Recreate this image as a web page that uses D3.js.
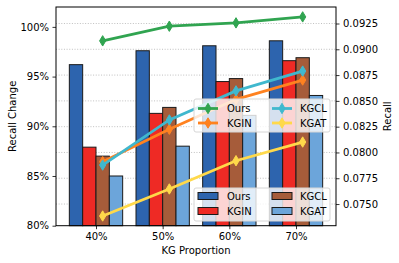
<!DOCTYPE html>
<html>
  <head>
    <meta charset='utf-8'>
    <script src='https://d3js.org/d3.v7.min.js'></script>
    <style>
body { margin: 0; background: #fff; }
svg text { font-family: 'DejaVu Sans', sans-serif; font-size: 10px; fill: #000; }
    </style>
  </head>
  <body>
    <div id='chart'></div>
    <script>
        // data
        const categories = ['40%', '50%', '60%', '70%'];
        const models = ['Ours', 'KGIN', 'KGCL', 'KGAT'];

        // bars: recall change (%)
        const changeOurs = [96.2, 97.6, 98.1, 98.6];
        const changeKGIN = [87.9, 91.3, 94.5, 96.6];
        const changeKGCL = [87.0, 91.9, 94.8, 96.9];
        const changeKGAT = [85.0, 88.0, 91.1, 93.1];

        // lines: recall
        const recallOurs = [0.09082, 0.09224, 0.09256, 0.09314];
        const recallKGIN = [0.07911, 0.08225, 0.08515, 0.08702];
        const recallKGCL = [0.07878, 0.08315, 0.08597, 0.08789];
        const recallKGAT = [0.07384, 0.07646, 0.07920, 0.08101];

        const leftTicks = [80, 85, 90, 95, 100];
        const rightTicks = [0.0750, 0.0775, 0.0800, 0.0825, 0.0850, 0.0875, 0.0900, 0.0925];

        const barColors = ['#2d64ae', '#ee2a25', '#a65c3a', '#6ca5da'];
        const lineColors = ['#30a450', '#ff8220', '#40b8ce', '#ffd94a'];

        const width = 399, height = 263;
        const box = { left: 56, right: 336, top: 7, bottom: 225.7 };

        const svg = d3.select('#chart').append('svg')
            .attr('width', width)
            .attr('height', height);

        const x = d3.scaleLinear().domain([-0.6, 3.6]).range([box.left, box.right]);
        const yLeft = d3.scaleLinear().domain([80, 102]).range([box.bottom, box.top]);
        const yRight = d3.scaleLinear().domain([0.0729, 0.0941]).range([box.bottom, box.top]);

        // grid from the right axis
        svg.append('g').selectAll('line')
            .data(rightTicks)
            .join('line')
            .attr('x1', box.left).attr('x2', box.right)
            .attr('y1', d => yRight(d)).attr('y2', d => yRight(d))
            .attr('stroke', '#b0b0b0')
            .attr('stroke-width', 0.8)
            .attr('stroke-dasharray', '1,1.65');

        // bars
        const barData = [changeOurs, changeKGIN, changeKGCL, changeKGAT];
        const barW = 0.2;
        barData.forEach(function(vals, k) {
            svg.append('g').selectAll('rect')
                .data(vals)
                .join('rect')
                .attr('x', (d, i) => x(i + (k - 1.5) * barW - barW / 2))
                .attr('y', d => yLeft(d))
                .attr('width', x(barW) - x(0))
                .attr('height', d => yLeft(80) - yLeft(d))
                .attr('fill', barColors[k])
                .attr('stroke', '#1a1a1a')
                .attr('stroke-width', 1);
        });

        // lines, drawn a little to the right of the group centre
        const lineData = [recallOurs, recallKGIN, recallKGCL, recallKGAT];
        const shift = 0.1;
        const diamond = 'M0,-5.2L3.1,0L0,5.2L-3.1,0Z';
        const line = d3.line()
            .x((d, i) => x(i + shift))
            .y(d => yRight(d));

        lineData.forEach(function(vals, k) {
            const g = svg.append('g');
            g.append('path')
                .datum(vals)
                .attr('d', line)
                .attr('fill', 'none')
                .attr('stroke', lineColors[k])
                .attr('stroke-width', 2.8);
            g.selectAll('path.mk')
                .data(vals)
                .join('path')
                .attr('class', 'mk')
                .attr('d', diamond)
                .attr('transform', (d, i) => 'translate(' + x(i + shift) + ',' + yRight(d) + ')')
                .attr('fill', lineColors[k])
                .attr('stroke', lineColors[k])
                .attr('stroke-width', 1);
        });

        // frame
        svg.append('rect')
            .attr('x', box.left).attr('y', box.top)
            .attr('width', box.right - box.left)
            .attr('height', box.bottom - box.top)
            .attr('fill', 'none')
            .attr('stroke', '#000')
            .attr('stroke-width', 1);

        // axes
        const axLeft = svg.append('g')
            .attr('transform', 'translate(' + box.left + ',0)')
            .call(d3.axisLeft(yLeft).tickValues(leftTicks).tickSize(3.5).tickPadding(3.5)
                  .tickFormat(d => d + '%'));
        const axRight = svg.append('g')
            .attr('transform', 'translate(' + box.right + ',0)')
            .call(d3.axisRight(yRight).tickValues(rightTicks).tickSize(3.5).tickPadding(3.5)
                  .tickFormat(d3.format('.4f')));
        const axBottom = svg.append('g')
            .attr('transform', 'translate(0,' + box.bottom + ')')
            .call(d3.axisBottom(x).tickValues([0, 1, 2, 3]).tickSize(3.5).tickPadding(3.5)
                  .tickFormat(i => categories[i]));
        [axLeft, axRight, axBottom].forEach(function(a) {
            a.select('.domain').remove();
            a.selectAll('line').attr('stroke', '#000').attr('stroke-width', 0.8);
            a.selectAll('text').style('font-size', '10px').style('font-family', "'DejaVu Sans', sans-serif");
        });

        // axis titles
        svg.append('text')
            .attr('transform', 'translate(15.5,' + (box.top + box.bottom) / 2 + ') rotate(-90)')
            .attr('text-anchor', 'middle')
            .text('Recall Change');
        svg.append('text')
            .attr('transform', 'translate(390.5,' + (box.top + box.bottom) / 2 + ') rotate(-90)')
            .attr('text-anchor', 'middle')
            .text('Recall');
        svg.append('text')
            .attr('x', (box.left + box.right) / 2)
            .attr('y', 253.5)
            .attr('text-anchor', 'middle')
            .text('KG Proportion');

        // legends: two columns, Ours/KGIN left, KGCL/KGAT right
        const legX = 194, legW = 136, legH = 33;
        const colHandle = [198, 272], colText = [227, 300];
        function legendBox(top) {
            svg.append('rect')
                .attr('x', legX).attr('y', top)
                .attr('width', legW).attr('height', legH)
                .attr('rx', 2)
                .attr('fill', '#fff').attr('fill-opacity', 0.8)
                .attr('stroke', '#d6d6d6').attr('stroke-width', 1);
        }

        // line legend
        const lineLegTop = 99;
        legendBox(lineLegTop);
        models.forEach(function(m, k) {
            const col = Math.floor(k / 2), row = k % 2;
            const cy = lineLegTop + 9.5 + row * 14.5;
            svg.append('line')
                .attr('x1', colHandle[col]).attr('x2', colHandle[col] + 20)
                .attr('y1', cy).attr('y2', cy)
                .attr('stroke', lineColors[k]).attr('stroke-width', 2.8);
            svg.append('path')
                .attr('d', diamond)
                .attr('transform', 'translate(' + (colHandle[col] + 10) + ',' + cy + ')')
                .attr('fill', lineColors[k]).attr('stroke', lineColors[k]);
            svg.append('text')
                .attr('x', colText[col]).attr('y', cy)
                .attr('dy', '0.35em')
                .text(m);
        });

        // bar legend
        const barLegTop = 188;
        legendBox(barLegTop);
        models.forEach(function(m, k) {
            const col = Math.floor(k / 2), row = k % 2;
            const cy = barLegTop + 8 + row * 15;
            svg.append('rect')
                .attr('x', colHandle[col]).attr('y', cy - 3.5)
                .attr('width', 20).attr('height', 7)
                .attr('fill', barColors[k])
                .attr('stroke', '#1a1a1a').attr('stroke-width', 1);
            svg.append('text')
                .attr('x', colText[col]).attr('y', cy)
                .attr('dy', '0.35em')
                .text(m);
        });
    </script>
  </body>
</html>
